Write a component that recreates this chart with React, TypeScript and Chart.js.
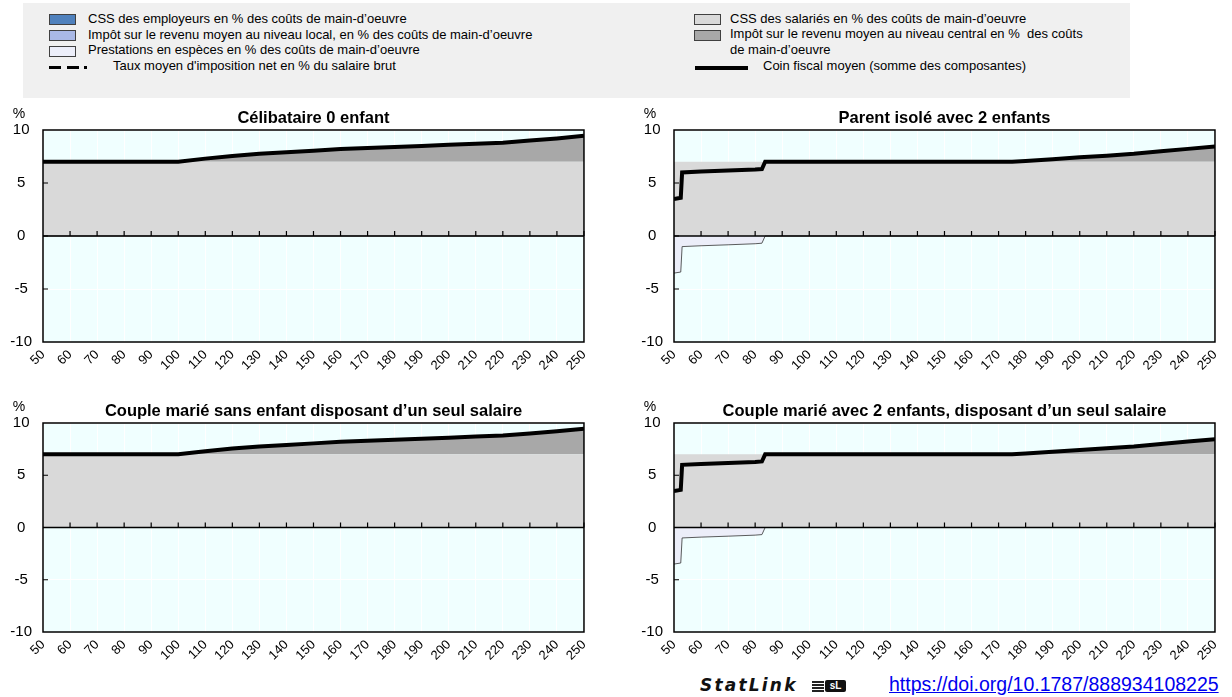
import React, { useEffect, useRef } from "react";
import { Chart, registerables } from "chart.js";

Chart.register(...registerables);

// ---------- DATA ----------
const xNoChild = [50, 60, 70, 80, 90, 100, 110, 120, 130, 140, 150, 160, 170, 180, 190, 200, 210, 220, 230, 240, 250];
const sscNoChild = [7, 7, 7, 7, 7, 7, 7, 7, 7, 7, 7, 7, 7, 7, 7, 7, 7, 7, 7, 7, 7];
const taxNoChild = [0, 0, 0, 0, 0, 0, 0.3, 0.55, 0.75, 0.9, 1.05, 1.2, 1.3, 1.4, 1.5, 1.6, 1.7, 1.8, 2.0, 2.2, 2.45];
const benefitNoChild = [0, 0, 0, 0, 0, 0, 0, 0, 0, 0, 0, 0, 0, 0, 0, 0, 0, 0, 0, 0, 0];
const totalNoChild = [7.0, 7.0, 7.0, 7.0, 7.0, 7.0, 7.3, 7.55, 7.75, 7.9, 8.05, 8.2, 8.3, 8.4, 8.5, 8.6, 8.7, 8.8, 9.0, 9.2, 9.45];

const xTwoChildren = [50, 52.5, 53, 60, 70, 80, 82.5, 83.7, 90, 100, 110, 120, 130, 140, 150, 160, 170, 175, 180, 190, 200, 210, 220, 230, 240, 250];
const sscTwoChildren = [7, 7, 7, 7, 7, 7, 7, 7, 7, 7, 7, 7, 7, 7, 7, 7, 7, 7, 7, 7, 7, 7, 7, 7, 7, 7];
const taxTwoChildren = [0, 0, 0, 0, 0, 0, 0, 0, 0, 0, 0, 0, 0, 0, 0, 0, 0, 0, 0.08, 0.25, 0.42, 0.58, 0.75, 1.0, 1.22, 1.45];
const benefitTwoChildren = [-3.5, -3.4, -1.0, -0.92, -0.83, -0.73, -0.68, 0, 0, 0, 0, 0, 0, 0, 0, 0, 0, 0, 0, 0, 0, 0, 0, 0, 0, 0];
const totalTwoChildren = [3.5, 3.6, 6.0, 6.08, 6.17, 6.27, 6.32, 7.0, 7.0, 7.0, 7.0, 7.0, 7.0, 7.0, 7.0, 7.0, 7.0, 7.0, 7.08, 7.25, 7.42, 7.58, 7.75, 8.0, 8.22, 8.45];

const panelTitles = [
  "Célibataire 0 enfant",
  "Parent isolé avec 2 enfants",
  "Couple marié sans enfant disposant d’un seul salaire",
  "Couple marié avec 2 enfants, disposant d’un seul salaire",
];

const legendLeft = [
  "CSS des employeurs en % des coûts de main-d’oeuvre",
  "Impôt sur le revenu moyen au niveau local, en % des coûts de main-d’oeuvre",
  "Prestations en espèces en % des coûts de main-d’oeuvre",
  "Taux moyen d'imposition net en % du salaire brut",
];
const legendRight = [
  "CSS des salariés en % des coûts de main-d’oeuvre",
  "Impôt sur le revenu moyen au niveau central en %  des coûts",
  "de main-d’oeuvre",
  "Coin fiscal moyen (somme des composantes)",
];

const FONT = "'Liberation Sans', Arial, Helvetica, sans-serif";
const C_SSC_EMP = "#4f81bd";
const C_LOCAL = "#a9b8e6";
const C_BEN = "#eceef9";
const C_SSC = "#d9d9d9";
const C_TAX = "#a8a8a8";
const C_BG = "#f0ffff";

type PanelProps = {
  left: number;
  top: number;
  title: string;
  xs: number[];
  ssc: number[];
  tax: number[];
  benefit: number[];
  total: number[];
  axisH: number;
};

function Panel({ left, top, title, xs, ssc, tax, benefit, total, axisH }: PanelProps) {
  const ref = useRef<HTMLCanvasElement | null>(null);
  useEffect(() => {
    if (!ref.current) return;
    const pts = (ys: number[]) => xs.map((x, i) => ({ x, y: ys[i] }));
    const deco = {
      id: "deco",
      beforeDraw(chart: any) {
        const { ctx, chartArea: a } = chart;
        ctx.save();
        ctx.fillStyle = C_BG;
        ctx.fillRect(a.left, a.top, a.right - a.left, a.bottom - a.top);
        ctx.restore();
      },
      afterDatasetsDraw(chart: any) {
        const { ctx, chartArea: a, scales } = chart;
        const xs_ = scales.x;
        const ys_ = scales.y;
        ctx.save();
        const y0 = ys_.getPixelForValue(0);
        ctx.strokeStyle = "#000";
        ctx.lineWidth = 1.5;
        ctx.beginPath();
        ctx.moveTo(a.left, y0);
        ctx.lineTo(a.right, y0);
        ctx.stroke();
        ctx.lineWidth = 1.2;
        ctx.beginPath();
        for (let v = 60; v <= 250; v += 10) {
          const px = xs_.getPixelForValue(v);
          ctx.moveTo(px, y0);
          ctx.lineTo(px, y0 - 5);
        }
        for (const v of [-5, 0, 5]) {
          const py = ys_.getPixelForValue(v);
          ctx.moveTo(a.left, py);
          ctx.lineTo(a.left + 5, py);
        }
        ctx.stroke();
        ctx.lineWidth = 1.5;
        ctx.strokeRect(a.left, a.top, a.right - a.left, a.bottom - a.top);
        ctx.fillStyle = "#000";
        ctx.textAlign = "center";
        ctx.textBaseline = "alphabetic";
        ctx.font = `bold 16.5px ${FONT}`;
        ctx.fillText(title, (a.left + a.right) / 2, a.top - 7);
        ctx.font = `14px ${FONT}`;
        ctx.fillText("%", 19, a.top - 12);
        ctx.restore();
      },
    };
    const chart = new Chart(ref.current, {
      type: "line",
      data: {
        datasets: [
          { label: "ssc", data: pts(ssc), fill: "origin", backgroundColor: C_SSC, borderColor: "rgba(0,0,0,0)", borderWidth: 0, pointRadius: 0, stack: "pos" },
          { label: "tax", data: pts(tax), fill: "-1", backgroundColor: C_TAX, borderColor: "rgba(0,0,0,0)", borderWidth: 0, pointRadius: 0, stack: "pos" },
          { label: "ben", data: pts(benefit), fill: "origin", backgroundColor: C_BEN, borderColor: "#333", borderWidth: 0.8, pointRadius: 0, stack: "neg" },
          { label: "total", data: pts(total), fill: false, borderColor: "#000", borderWidth: 4, pointRadius: 0, stack: "tot", borderCapStyle: "butt", borderJoinStyle: "miter" },
        ] as any,
      },
      options: {
        animation: false,
        responsive: false,
        maintainAspectRatio: false,
        events: [],
        layout: { padding: { left: 0, right: 15, top: 30, bottom: 0 } },
        plugins: {
          legend: { display: false },
          tooltip: { enabled: false },
          title: { display: false },
          filler: { drawTime: "beforeDatasetsDraw" },
        },
        elements: { line: { tension: 0 } },
        scales: {
          x: {
            type: "linear",
            min: 50,
            max: 250,
            ticks: { stepSize: 10, autoSkip: false, minRotation: 45, maxRotation: 45, color: "#000", font: { family: FONT, size: 13 }, padding: 5 },
            grid: { color: "#ffffff", drawTicks: false, lineWidth: 1 },
            border: { display: false },
            afterFit: (s: any) => { s.height = axisH; },
          },
          y: {
            stacked: true,
            min: -10,
            max: 10,
            ticks: { stepSize: 5, color: "#000", font: { family: FONT, size: 15 }, crossAlign: "center", padding: 11 },
            grid: { color: "#ffffff", drawTicks: false, lineWidth: 1 },
            border: { display: false },
            afterFit: (s: any) => { s.width = 43; },
          },
        },
      } as any,
      plugins: [deco],
    });
    return () => chart.destroy();
  }, []);
  return <canvas ref={ref} width={600} height={270} style={{ position: "absolute", left, top, width: 600, height: 270 }} />;
}

const sw = (left: number, top: number, color: string) => (
  <div style={{ position: "absolute", left, top, width: 25, height: 9, background: color, border: "1px solid #404040" }} />
);
const txt = (left: number, top: number, s: string) => (
  <div style={{ position: "absolute", left, top, fontSize: 13, lineHeight: "16px", whiteSpace: "pre", color: "#000", fontFamily: FONT }}>{s}</div>
);

export default function App() {
  return (
    <div style={{ position: "fixed", left: 0, top: 0, width: 1232, height: 697, background: "#fff", overflow: "hidden", fontFamily: FONT }}>
      <div style={{ position: "absolute", left: 23, top: 3, width: 1107, height: 95, background: "#f0f0f0" }} />
      {sw(49, 14, C_SSC_EMP)}
      {sw(49, 30, C_LOCAL)}
      {sw(49, 46, C_BEN)}
      <div style={{ position: "absolute", left: 49, top: 66, width: 12, height: 3, background: "#000" }} />
      <div style={{ position: "absolute", left: 67, top: 66, width: 12, height: 3, background: "#000" }} />
      <div style={{ position: "absolute", left: 84, top: 66, width: 3, height: 3, background: "#000" }} />
      {txt(88, 11, legendLeft[0])}
      {txt(88, 27, legendLeft[1])}
      {txt(88, 42, legendLeft[2])}
      {txt(113, 58, legendLeft[3])}
      {sw(694, 14, C_SSC)}
      {sw(694, 30, C_TAX)}
      <div style={{ position: "absolute", left: 695, top: 66, width: 53, height: 4, background: "#000" }} />
      {txt(730, 11, legendRight[0])}
      {txt(730, 26, legendRight[1])}
      {txt(730, 42, legendRight[2])}
      {txt(763, 58, legendRight[3])}

      <Panel left={0} top={100} title={panelTitles[0]} xs={xNoChild} ssc={sscNoChild} tax={taxNoChild} benefit={benefitNoChild} total={totalNoChild} axisH={28} />
      <Panel left={631} top={100} title={panelTitles[1]} xs={xTwoChildren} ssc={sscTwoChildren} tax={taxTwoChildren} benefit={benefitTwoChildren} total={totalTwoChildren} axisH={28} />
      <Panel left={0} top={393} title={panelTitles[2]} xs={xNoChild} ssc={sscNoChild} tax={taxNoChild} benefit={benefitNoChild} total={totalNoChild} axisH={31} />
      <Panel left={631} top={393} title={panelTitles[3]} xs={xTwoChildren} ssc={sscTwoChildren} tax={taxTwoChildren} benefit={benefitTwoChildren} total={totalTwoChildren} axisH={31} />

      <div style={{ position: "absolute", left: 700, top: 675, fontFamily: "'DejaVu Sans', sans-serif", fontWeight: "bold", fontStyle: "italic", fontSize: 17, letterSpacing: 2.2, lineHeight: "20px", color: "#111" }}>StatLink</div>
      <div style={{ position: "absolute", left: 812, top: 680, width: 34, height: 12 }}>
        <div style={{ position: "absolute", left: 0, top: 1, width: 12, height: 1.5, background: "#222" }} />
        <div style={{ position: "absolute", left: 0, top: 4, width: 12, height: 1.5, background: "#222" }} />
        <div style={{ position: "absolute", left: 0, top: 7, width: 12, height: 1.5, background: "#222" }} />
        <div style={{ position: "absolute", left: 0, top: 10, width: 12, height: 1.5, background: "#222" }} />
        <div style={{ position: "absolute", left: 13, top: 0, width: 21, height: 12, background: "#111", borderRadius: 2, color: "#fff", fontSize: 10, lineHeight: "12px", fontWeight: "bold", textAlign: "center", fontFamily: FONT }}>sL</div>
      </div>
      <a href="https://doi.org/10.1787/888934108225" style={{ position: "absolute", left: 889, top: 672, fontSize: 19.5, lineHeight: "24px", color: "#0000ee", textDecoration: "underline", fontFamily: FONT, whiteSpace: "nowrap" }}>https://doi.org/10.1787/888934108225</a>
    </div>
  );
}
